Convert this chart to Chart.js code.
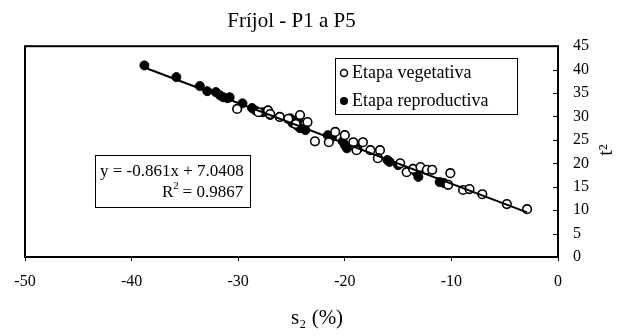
<!DOCTYPE html>
<html>
<head>
<meta charset="utf-8">
<script src="https://cdn.jsdelivr.net/npm/chart.js@4.4.1/dist/chart.umd.min.js"></script>
<style>
  html, body { margin: 0; padding: 0; background: #fff; }
  #wrap { width: 625px; height: 336px; }
</style>
</head>
<body>
<div id="wrap"><canvas id="chart_s2"></canvas></div>
<script>
// Etapa vegetativa (open circles): s2 (%) and t2
var vegX = [-30.1, -28.1, -27.2, -27.0, -26.1, -25.3, -24.2, -24.6, -23.5, -22.8, -21.5, -20.9, -20.0, -19.2,
            -18.3, -18.9, -17.6, -16.7, -16.9, -14.8, -14.2, -13.6, -12.9, -12.3, -11.8, -10.1, -10.3,
            -8.9, -8.3, -7.1, -4.8, -2.9];
var vegY = [31.6, 30.9, 31.3, 30.5, 29.9, 29.5, 30.3, 28.4, 28.8, 24.7, 24.5, 26.7, 26.0, 24.5,
            24.5, 22.8, 22.8, 22.8, 21.1, 20.0, 18.1, 18.8, 19.2, 18.6, 18.6, 17.9, 15.4,
            14.3, 14.5, 13.4, 11.3, 10.2];
// Etapa reproductiva (filled circles)
var repX = [-38.8, -35.8, -33.6, -32.9, -32.1, -31.7, -31.4, -31.0, -30.8, -29.6, -28.7, -28.4, -27.7, -27.0,
            -26.1, -25.1, -24.9, -24.5, -24.2, -23.7, -24.4, -24.7, -21.6, -21.2, -20.2, -20.0, -19.8, -18.8,
            -16.0, -15.8, -15.0, -13.3, -13.1, -11.1, -10.7];
var repY = [40.9, 38.4, 36.5, 35.4, 35.2, 34.5, 34.1, 33.9, 34.1, 32.8, 31.8, 31.3, 30.9, 30.3,
            29.9, 29.6, 28.6, 28.1, 27.5, 27.1, 29.2, 29.0, 26.0, 25.6, 24.7, 23.9, 23.2, 23.0,
            20.7, 20.3, 19.6, 18.1, 17.1, 16.0, 15.8];
// linear trend y = -0.861x + 7.0408, end points as drawn
var trendX = [-38.8, -2.9];
var trendY = [40.45, 9.54];

var xTicks = [-50, -40, -30, -20, -10, 0];
var yTicks = [0, 5, 10, 15, 20, 25, 30, 35, 40, 45];

var titleText = "Fríjol - P1 a P5";
var xTitle = "s\u2082 (%)";
var yTitle = "t\u00b2";
var legendNames = ["Etapa vegetativa", "Etapa reproductiva"];
var eqText = "y = -0.861x + 7.0408";
var r2Text = "= 0.9867";

function pts(xs, ys) {
  return xs.map(function (x, i) { return { x: x, y: ys[i] }; });
}

var serif = "'Liberation Serif', 'Times New Roman', serif";

// frame, inner ticks, legend box, equation box, axis titles
var extras = {
  id: "extras",
  afterDraw: function (chart) {
    var c = chart.ctx, a = chart.chartArea, ys = chart.scales.y;
    c.save();
    c.strokeStyle = "#000";
    c.lineWidth = 2;
    c.strokeRect(a.left, a.top, a.right - a.left, a.bottom - a.top);

    c.lineWidth = 1;
    yTicks.forEach(function (v) {
      var py = Math.round(ys.getPixelForValue(v)) + 0.5;
      c.beginPath();
      c.moveTo(a.right - 5, py);
      c.lineTo(a.right, py);
      c.stroke();
    });

    // legend
    c.fillStyle = "#fff";
    c.fillRect(335, 58, 182, 56);
    c.strokeRect(335.5, 58.5, 182, 56);
    c.font = "18px " + serif;
    c.fillStyle = "#000";
    c.textBaseline = "middle";
    c.textAlign = "left";
    c.beginPath();
    c.arc(344, 73, 3.5, 0, Math.PI * 2);
    c.lineWidth = 1.5;
    c.stroke();
    c.fillText(legendNames[0], 352, 73);
    c.beginPath();
    c.arc(344, 101, 4, 0, Math.PI * 2);
    c.fill();
    c.fillText(legendNames[1], 352, 101);

    // equation
    c.lineWidth = 1;
    c.fillStyle = "#fff";
    c.fillRect(95, 155, 155, 52);
    c.strokeRect(95.5, 155.5, 155, 52);
    c.fillStyle = "#000";
    c.font = "17px " + serif;
    c.fillText(eqText, 100, 172);
    c.fillText("R", 162, 193);
    var rw = c.measureText("R").width;
    c.font = "11px " + serif;
    c.fillText("2", 162 + rw, 186);
    c.font = "17px " + serif;
    c.fillText(" " + r2Text, 162 + rw + 5, 193);

    // x title
    c.textAlign = "center";
    c.font = "21px " + serif;
    c.fillText(xTitle, 317, 318);

    // y title, rotated
    c.translate(607, 150);
    c.rotate(-Math.PI / 2);
    c.font = "20px " + serif;
    c.fillText(yTitle, 0, 0);
    c.restore();
  }
};

new Chart(document.getElementById("chart_s2"), {
  type: "scatter",
  data: {
    datasets: [
      {
        label: "trend",
        data: pts(trendX, trendY),
        showLine: true,
        borderColor: "#000",
        borderWidth: 2,
        pointRadius: 0,
        order: 0
      },
      {
        label: legendNames[1],
        data: pts(repX, repY),
        backgroundColor: "#000",
        borderColor: "#000",
        borderWidth: 1,
        pointRadius: 4.5,
        order: 2
      },
      {
        label: legendNames[0],
        data: pts(vegX, vegY),
        backgroundColor: "#fff",
        borderColor: "#000",
        borderWidth: 1.6,
        pointRadius: 4.3,
        order: 1
      }
    ]
  },
  options: {
    responsive: true,
    maintainAspectRatio: false,
    animation: false,
    layout: { padding: { left: 25, right: 0, top: 0, bottom: 0 } },
    plugins: {
      legend: { display: false },
      tooltip: { enabled: false },
      title: {
        display: true,
        text: titleText,
        fullSize: false,
        color: "#000",
        font: { family: serif, size: 21, weight: "normal" },
        padding: { top: 9, bottom: 12 }
      }
    },
    scales: {
      x: {
        type: "linear",
        min: -50,
        max: 0,
        afterBuildTicks: function (s) { s.ticks = xTicks.map(function (v) { return { value: v }; }); },
        afterFit: function (s) { s.height = 79; },
        grid: { drawOnChartArea: false, drawTicks: true, tickLength: 4, color: "#000" },
        border: { display: false },
        ticks: { color: "#000", padding: 11, font: { family: serif, size: 16 } }
      },
      y: {
        type: "linear",
        position: "right",
        min: 0,
        max: 45,
        afterBuildTicks: function (s) { s.ticks = yTicks.map(function (v) { return { value: v }; }); },
        afterFit: function (s) { s.width = 67; },
        grid: { display: false, drawTicks: false },
        border: { display: false },
        ticks: { color: "#000", padding: 15, font: { family: serif, size: 16 } }
      }
    }
  },
  plugins: [extras]
});
</script>
</body>
</html>
